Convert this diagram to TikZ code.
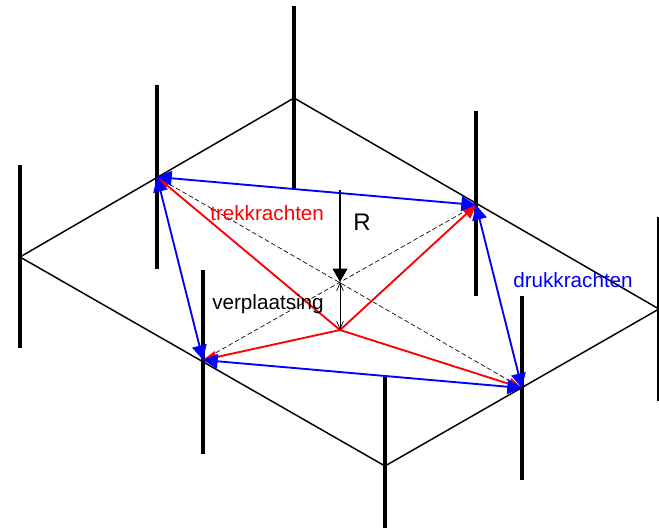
\documentclass[tikz,border=0pt]{standalone}
\usepackage{fontspec}
\setmainfont{Liberation Sans}
\usetikzlibrary{arrows.meta,positioning}
\definecolor{drukBlue}{RGB}{0,0,255}
\definecolor{trekRed}{RGB}{255,0,0}
\begin{document}
\begin{tikzpicture}[
  x=0.75pt, y=-0.75pt,
  plate/.style={draw=black, line width=1.1pt},
  column/.style={draw=black, line width=2.4pt},
  druk/.style={{Triangle[length=11pt,width=11pt]}-{Triangle[length=11pt,width=11pt]}, draw=drukBlue, fill=drukBlue, line width=1.4pt},
  trek/.style={-{Triangle[length=10pt,width=9pt]}, draw=trekRed, fill=trekRed, line width=1.4pt},
  diag/.style={draw=black, dash pattern=on 3.5pt off 2pt, line width=0.5pt},
  loadarrow/.style={-{Triangle[length=10pt,width=11pt]}, draw=black, line width=1.2pt},
  shiftarrow/.style={{Straight Barb[length=6pt,width=5pt]}-{Straight Barb[length=6pt,width=5pt]}, draw=black, line width=0.5pt},
  tag/.style={font=\fontsize{15.5}{18}\selectfont, inner sep=0pt}
]
\useasboundingbox (0,0) rectangle (659,529);

\coordinate (top) at (294,98);
\coordinate (left) at (20,257);
\coordinate (bottom) at (385,466);
\coordinate (right) at (659,309);

\coordinate (cornerA) at (157,177);
\coordinate (cornerB) at (476,205);
\coordinate (cornerC) at (203,360);
\coordinate (cornerD) at (522,388);

\coordinate (centre) at (340,282);
\coordinate (moved) at (340,330);
\coordinate (loadTop) at (340,190);

\draw[plate] (top) -- (left) -- (bottom) -- (right) -- cycle;

\draw[column] (294,6) -- (294,188);
\draw[column] (20,165) -- (20,348);
\draw[column] (157,85) -- (157,269);
\draw[column] (476,111) -- (476,296);
\draw[column] (203,270) -- (203,454);
\draw[column] (522,296) -- (522,480);
\draw[column] (385,375) -- (385,528);
\draw[column] (659,217) -- (659,401);

\draw[diag] (cornerA) -- (cornerD);
\draw[diag] (cornerC) -- (cornerB);

\draw[trek] (moved) -- (cornerA);
\draw[trek] (moved) -- (cornerB);
\draw[trek] (moved) -- (cornerC);
\draw[trek] (moved) -- (cornerD);

\draw[druk] (cornerA) -- (cornerB);
\draw[druk] (cornerA) -- (cornerC);
\draw[druk] (cornerB) -- (cornerD);
\draw[druk] (cornerC) -- (cornerD);

\draw[loadarrow] (loadTop) -- (centre);
\draw[shiftarrow] (centre) -- (moved);

\node[tag, text=trekRed, anchor=base west] (trekLabel) at (210,220) {trekkrachten};
\node[tag, text=drukBlue, anchor=base west] (drukLabel) at (513,287) {drukkrachten};
\node[tag, anchor=base west] (shiftLabel) at (212,309) {verplaatsing};
\node[tag, font=\fontsize{18}{21}\selectfont, anchor=base west] (loadLabel) at (353,230) {R};
\end{tikzpicture}
\end{document}
